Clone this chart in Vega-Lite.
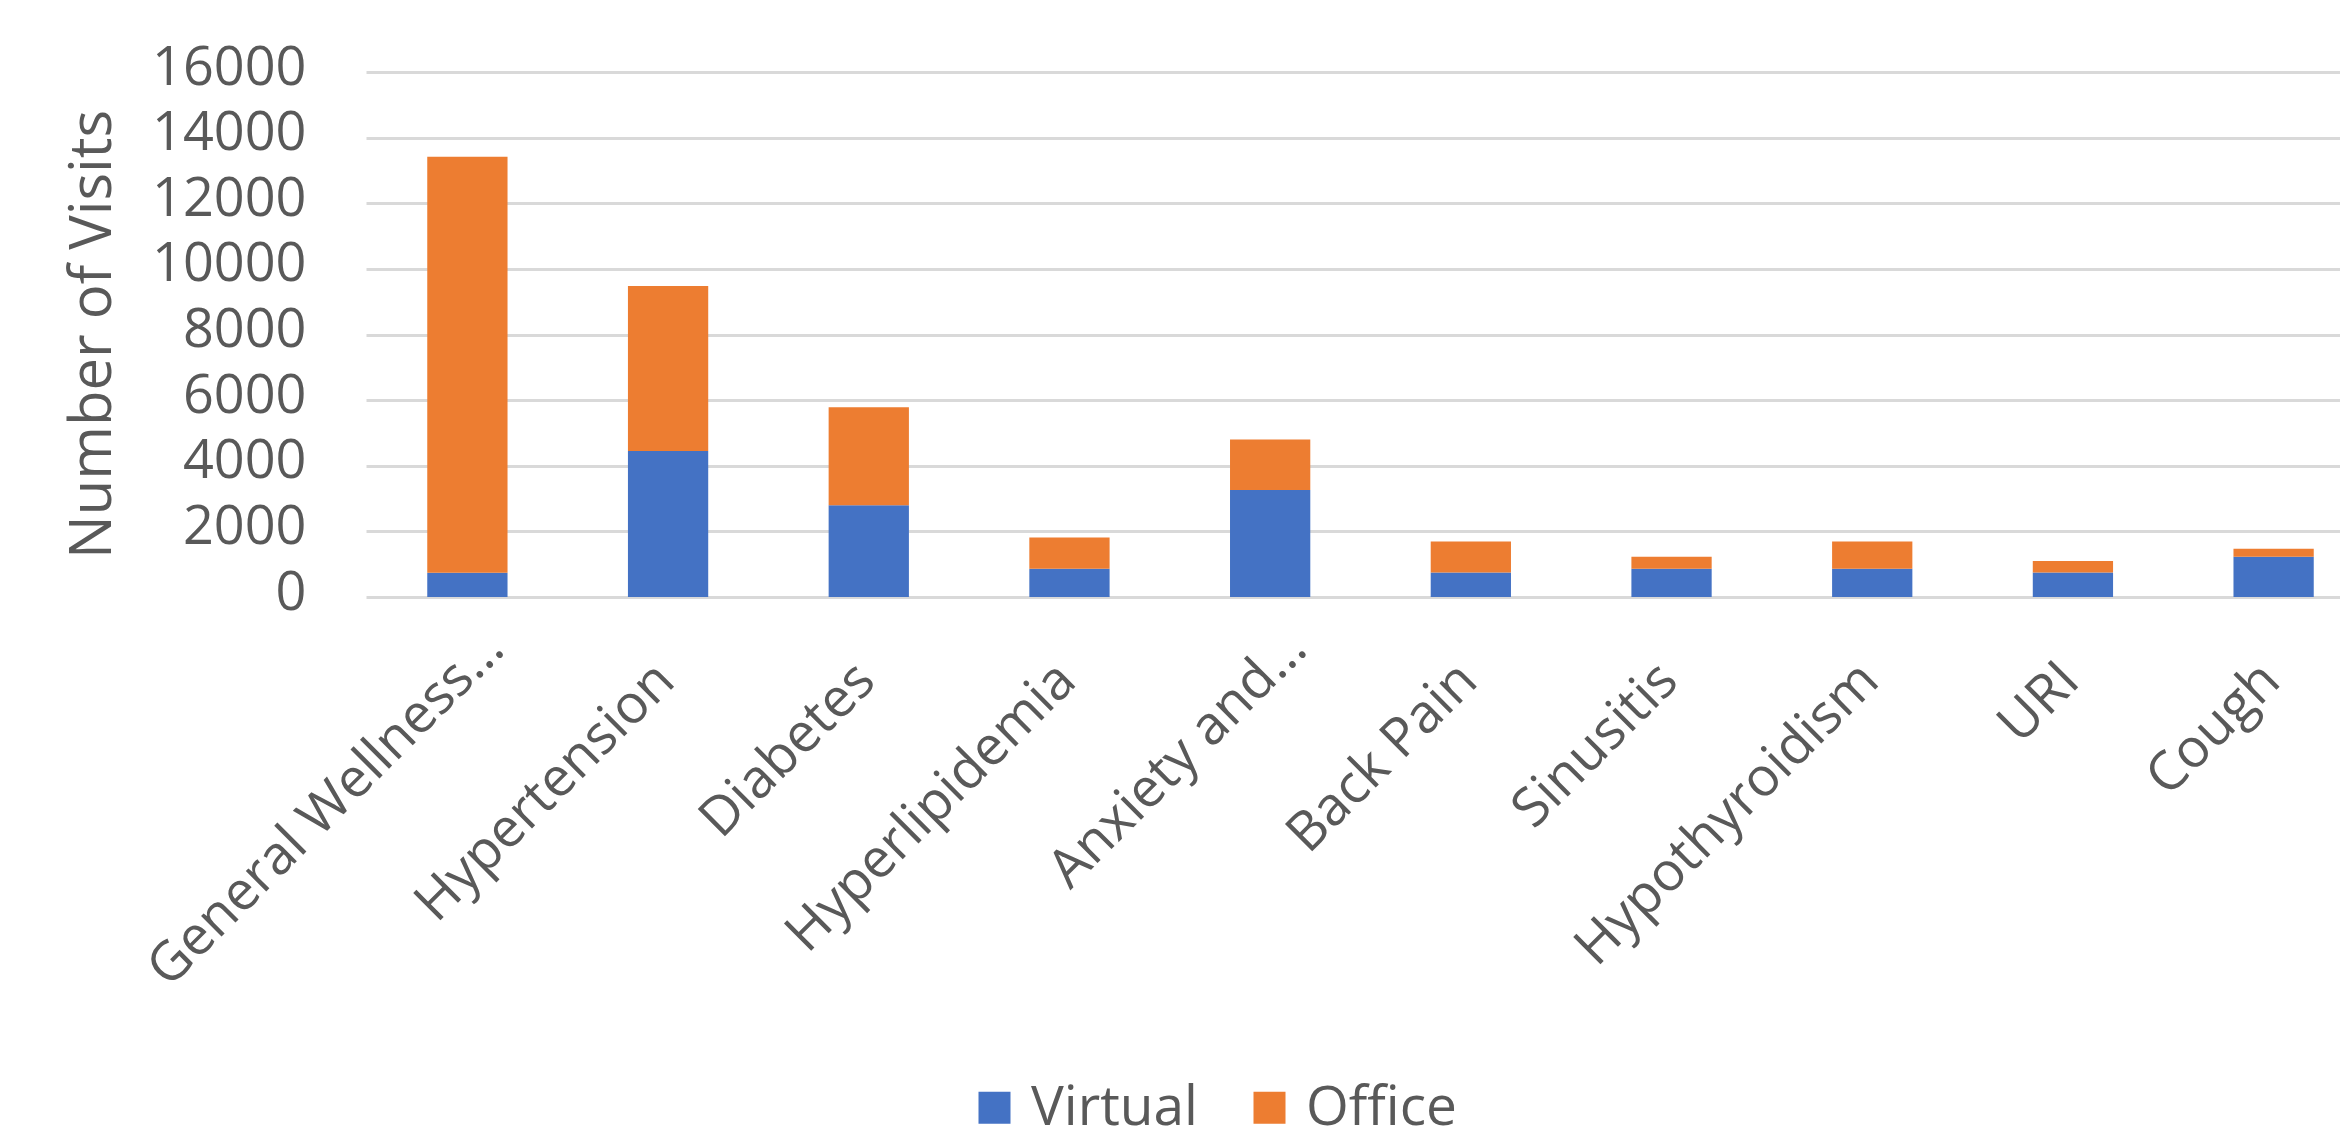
{
  "$schema": "https://vega.github.io/schema/vega-lite/v6.json",
  "width": 1974,
  "height": 525,
  "autosize": {"type": "none"},
  "padding": {"left": 366, "top": 72, "right": 0, "bottom": 530},
  "background": "white",
  "config": {"view": {"stroke": null}, "font": "Open Sans"},
  "data": {
    "values": [
      {"condition": "General Wellness…", "type": "Virtual", "visits": 740},
      {"condition": "General Wellness…", "type": "Office", "visits": 12680},
      {"condition": "Hypertension", "type": "Virtual", "visits": 4450},
      {"condition": "Hypertension", "type": "Office", "visits": 5030},
      {"condition": "Diabetes", "type": "Virtual", "visits": 2800},
      {"condition": "Diabetes", "type": "Office", "visits": 2980},
      {"condition": "Hyperlipidemia", "type": "Virtual", "visits": 860},
      {"condition": "Hyperlipidemia", "type": "Office", "visits": 950},
      {"condition": "Anxiety and…", "type": "Virtual", "visits": 3260},
      {"condition": "Anxiety and…", "type": "Office", "visits": 1540},
      {"condition": "Back Pain", "type": "Virtual", "visits": 750},
      {"condition": "Back Pain", "type": "Office", "visits": 940},
      {"condition": "Sinusitis", "type": "Virtual", "visits": 860},
      {"condition": "Sinusitis", "type": "Office", "visits": 370},
      {"condition": "Hypothyroidism", "type": "Virtual", "visits": 860},
      {"condition": "Hypothyroidism", "type": "Office", "visits": 830},
      {"condition": "URI", "type": "Virtual", "visits": 750},
      {"condition": "URI", "type": "Office", "visits": 350},
      {"condition": "Cough", "type": "Virtual", "visits": 1230},
      {"condition": "Cough", "type": "Office", "visits": 240}
    ]
  },
  "mark": {"type": "bar"},
  "encoding": {
    "x": {
      "field": "condition",
      "type": "nominal",
      "sort": null,
      "scale": {"paddingInner": 0.6, "paddingOuter": 0.218, "align": 0.7},
      "axis": {
        "title": null,
        "domain": false,
        "ticks": false,
        "tickSize": 0,
        "labelAngle": -45,
        "labelAlign": "right",
        "labelBaseline": "alphabetic",
        "labelFontSize": 54,
        "labelColor": "#595959",
        "labelLimit": 0,
        "labelOverlap": false,
        "labelOffset": {"condition": {"test": "datum.value == 'General Wellness…' || datum.value == 'Anxiety and…'", "value": 39}, "value": 9},
        "labelPadding": {"condition": {"test": "datum.value == 'General Wellness…' || datum.value == 'Anxiety and…'", "value": 54}, "value": 86}
      }
    },
    "y": {
      "field": "visits",
      "type": "quantitative",
      "stack": "zero",
      "scale": {"domain": [0, 16000], "nice": false},
      "axis": {
        "title": "Number of Visits",
        "titleFontSize": 58,
        "titleFontWeight": "normal",
        "titleColor": "#595959",
        "titleX": -256,
        "titleY": 262,
        "titleAngle": -90,
        "titleAlign": "center",
        "titleBaseline": "alphabetic",
        "values": [0, 2000, 4000, 6000, 8000, 10000, 12000, 14000, 16000],
        "format": "d",
        "domain": false,
        "ticks": false,
        "tickSize": 0,
        "labelFontSize": 54,
        "labelColor": "#595959",
        "labelPadding": 60,
        "labelOffset": -4,
        "grid": true,
        "gridColor": "#d9d9d9",
        "gridWidth": 3
      }
    },
    "color": {
      "field": "type",
      "type": "nominal",
      "sort": ["Virtual", "Office"],
      "scale": {"domain": ["Virtual", "Office"], "range": ["#4472C4", "#ED7D31"]},
      "legend": {
        "title": null,
        "orient": "none",
        "legendX": 601,
        "legendY": 1008,
        "direction": "horizontal",
        "symbolType": "square",
        "symbolSize": 1024,
        "symbolStrokeWidth": 0,
        "labelFontSize": 55,
        "labelColor": "#595959",
        "labelLimit": 0,
        "labelOffset": 9,
        "columnPadding": 44,
        "padding": 0
      }
    }
  }
}
